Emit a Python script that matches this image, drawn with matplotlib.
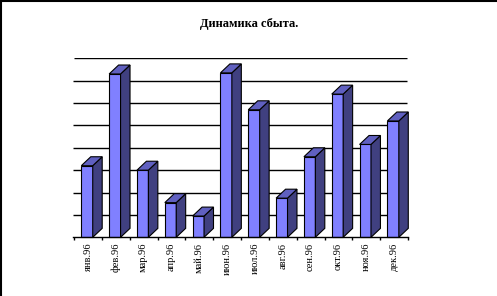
import numpy as np
import matplotlib.pyplot as plt
from matplotlib.patches import Polygon
from matplotlib.lines import Line2D

months = ['янв.96', 'фев.96', 'мар.96', 'апр.96', 'май.96', 'июн.96',
          'июл.96', 'авг.96', 'сен.96', 'окт.96', 'ноя.96', 'дек.96']
sales = [3.2, 7.3, 3.0, 1.55, 0.95, 7.35, 5.7, 1.75, 3.6, 6.4, 4.15, 5.2]
title = 'Динамика сбыта.'

front_c = '#8080ff'
side_c = '#404080'
top_c = '#6060c0'

fig = plt.figure(figsize=(4.97, 2.96), dpi=100)
ax = fig.add_axes([72.7 / 497, 1 - 237.3 / 296, (408 - 72.7) / 497, 179 / 296])
ax.set_xlim(-0.05, 12.0)
ax.set_ylim(0, 8)

# gridlines on the back wall
for g in range(1, 9):
    x0 = 0.0 if g == 8 else -0.05
    ax.hlines(g, x0, 11.95, color='black', lw=1.0, zorder=1)

x = np.arange(len(months))
off, w = 0.26, 0.41
dx, dy = 0.34, 0.40
ax.bar(x + off, sales, width=w, align='edge', color=front_c,
       edgecolor='black', lw=0.8, zorder=3, clip_on=False)
for xi, v in zip(x, sales):
    r = xi + off + w
    side = Polygon([(r, 0), (r + dx, dy), (r + dx, v + dy), (r, v)],
                   closed=True, fc=side_c, ec='black', lw=0.8, zorder=3, clip_on=False)
    top = Polygon([(xi + off, v), (xi + off + dx, v + dy), (r + dx, v + dy), (r, v)],
                  closed=True, fc=top_c, ec='black', lw=0.8, zorder=3, clip_on=False)
    ax.add_patch(side)
    ax.add_patch(top)

for s in ['top', 'right', 'left']:
    ax.spines[s].set_visible(False)
ax.spines['bottom'].set_linewidth(1.0)
ax.spines['bottom'].set_zorder(4)
ax.set_yticks([])
ax.set_xticks(np.arange(13))
ax.set_xticklabels([])
ax.tick_params(axis='x', which='major', direction='out', length=2.5, width=1.0)
ax.set_xticks(x + 0.5, minor=True)
ax.set_xticklabels(months, minor=True, rotation=90, fontsize=7.5,
                   family='Liberation Serif', va='top', ha='center')
ax.tick_params(axis='x', which='minor', length=0, pad=4)

fig.text(249 / 497, 1 - 24 / 296, title, ha='center', va='center',
         fontsize=9, fontweight='bold', family='Liberation Serif')

# outer frame, only top and left edges show
fig.add_artist(Line2D([0, 1], [0.998, 0.998], color='black', lw=1.5, transform=fig.transFigure))
fig.add_artist(Line2D([0.002, 0.002], [0, 1], color='black', lw=1.5, transform=fig.transFigure))

fig.savefig('out.png', dpi=100)
